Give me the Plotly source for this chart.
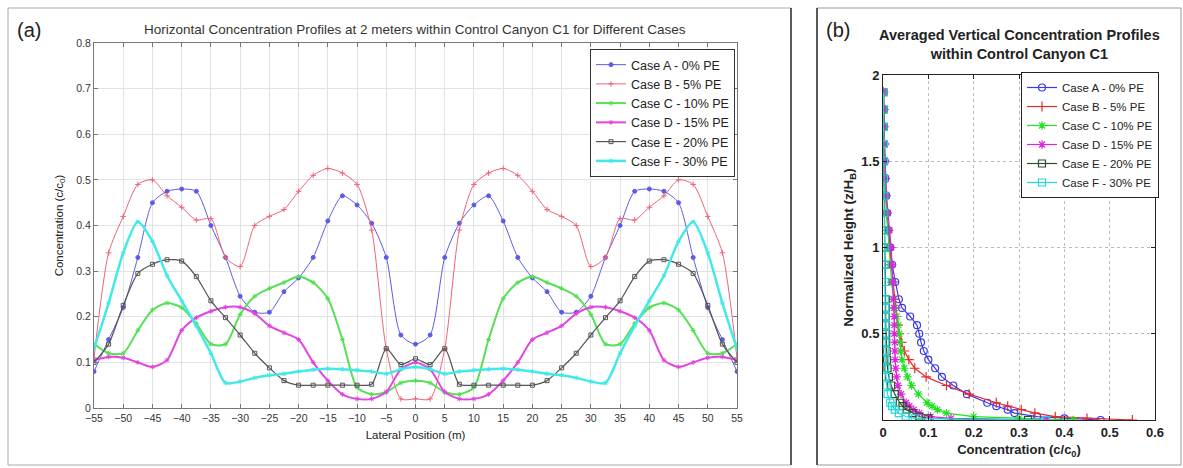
import plotly.graph_objects as go

# ---- panel (a): horizontal profiles at 2 m, lateral position -55..55 step 2.5
lateral_m = [-55, -52.5, -50, -47.5, -45, -42.5, -40, -37.5, -35, -32.5, -30, -27.5, -25, -22.5,
             -20, -17.5, -15, -12.5, -10, -7.5, -5, -2.5, 0, 2.5, 5, 7.5, 10, 12.5, 15, 17.5,
             20, 22.5, 25, 27.5, 30, 32.5, 35, 37.5, 40, 42.5, 45, 47.5, 50, 52.5, 55]

case_a = [0.08, 0.15, 0.22, 0.33, 0.45, 0.475, 0.48, 0.475, 0.40, 0.33, 0.245, 0.21, 0.21, 0.255,
          0.285, 0.33, 0.41, 0.465, 0.445, 0.405, 0.33, 0.16, 0.14, 0.16, 0.33, 0.405, 0.445, 0.465,
          0.41, 0.33, 0.285, 0.255, 0.21, 0.21, 0.245, 0.33, 0.40, 0.475, 0.48, 0.475, 0.45, 0.33,
          0.22, 0.15, 0.08]
case_b = [0.11, 0.34, 0.42, 0.49, 0.50, 0.465, 0.44, 0.412, 0.415, 0.33, 0.31, 0.40, 0.42, 0.435,
          0.475, 0.51, 0.525, 0.515, 0.49, 0.39, 0.13, 0.02, 0.02, 0.02, 0.13, 0.39, 0.49, 0.515,
          0.525, 0.51, 0.475, 0.435, 0.42, 0.40, 0.31, 0.33, 0.415, 0.412, 0.44, 0.465, 0.50, 0.49,
          0.42, 0.34, 0.11]
case_c = [0.14, 0.12, 0.12, 0.17, 0.215, 0.23, 0.22, 0.185, 0.14, 0.14, 0.205, 0.245, 0.262, 0.275,
          0.288, 0.275, 0.24, 0.15, 0.045, 0.03, 0.035, 0.055, 0.06, 0.055, 0.035, 0.03, 0.045, 0.15,
          0.24, 0.275, 0.288, 0.275, 0.262, 0.245, 0.205, 0.14, 0.14, 0.185, 0.22, 0.23, 0.215, 0.17,
          0.12, 0.12, 0.14]
case_d = [0.105, 0.112, 0.11, 0.10, 0.09, 0.105, 0.17, 0.198, 0.212, 0.221, 0.221, 0.207, 0.18, 0.165,
          0.15, 0.10, 0.06, 0.03, 0.02, 0.02, 0.035, 0.085, 0.10, 0.085, 0.035, 0.02, 0.02, 0.03,
          0.06, 0.10, 0.15, 0.165, 0.18, 0.207, 0.221, 0.221, 0.212, 0.198, 0.17, 0.105, 0.09, 0.10,
          0.11, 0.112, 0.105]
case_e = [0.10, 0.14, 0.225, 0.295, 0.315, 0.325, 0.322, 0.288, 0.235, 0.198, 0.16, 0.12, 0.088, 0.06,
          0.05, 0.05, 0.05, 0.05, 0.05, 0.052, 0.13, 0.095, 0.108, 0.095, 0.13, 0.052, 0.05, 0.05,
          0.05, 0.05, 0.05, 0.06, 0.088, 0.12, 0.16, 0.198, 0.235, 0.288, 0.322, 0.325, 0.315, 0.295,
          0.225, 0.14, 0.10]
case_f = [0.13, 0.23, 0.34, 0.408, 0.365, 0.29, 0.235, 0.18, 0.12, 0.055, 0.058, 0.066, 0.072, 0.075,
          0.08, 0.084, 0.086, 0.085, 0.083, 0.08, 0.075, 0.085, 0.09, 0.085, 0.075, 0.08, 0.083, 0.085,
          0.086, 0.084, 0.08, 0.075, 0.072, 0.066, 0.058, 0.055, 0.12, 0.18, 0.235, 0.29, 0.365, 0.408,
          0.34, 0.23, 0.13]

# ---- panel (b): averaged vertical profiles, normalized height z/H_B
height = [0, 0.01, 0.02, 0.04, 0.06, 0.08, 0.1, 0.15, 0.2, 0.25, 0.3, 0.35, 0.4, 0.45, 0.5, 0.55,
          0.6, 0.65, 0.7, 0.8, 0.9, 1.0, 1.1, 1.2, 1.3, 1.4, 1.5, 1.6, 1.7, 1.8, 1.9]

vert_a = [0.48, 0.40, 0.34, 0.29, 0.275, 0.25, 0.23, 0.185, 0.155, 0.13, 0.115, 0.10, 0.09, 0.084,
          0.08, 0.075, 0.06, 0.042, 0.035, 0.027, 0.02, 0.016, 0.012, 0.009, 0.007, 0.005, 0.004,
          0.003, 0.002, 0.002, 0.001]
vert_b = [0.55, 0.45, 0.38, 0.335, 0.305, 0.275, 0.25, 0.19, 0.14, 0.095, 0.07, 0.057, 0.047, 0.041,
          0.036, 0.033, 0.03, 0.028, 0.026, 0.022, 0.018, 0.014, 0.011, 0.008, 0.006, 0.005, 0.004,
          0.003, 0.002, 0.002, 0.001]
vert_c = [0.42, 0.30, 0.20, 0.14, 0.12, 0.108, 0.097, 0.078, 0.063, 0.054, 0.047, 0.042, 0.039, 0.037,
          0.036, 0.034, 0.03, 0.026, 0.023, 0.019, 0.016, 0.013, 0.01, 0.008, 0.006, 0.005, 0.004,
          0.003, 0.002, 0.002, 0.001]
vert_d = [0.36, 0.15, 0.105, 0.08, 0.068, 0.058, 0.051, 0.04, 0.033, 0.03, 0.028, 0.027, 0.026, 0.026,
          0.025, 0.025, 0.025, 0.024, 0.023, 0.022, 0.02, 0.018, 0.014, 0.011, 0.008, 0.006, 0.004,
          0.003, 0.002, 0.002, 0.001]
vert_e = [0.32, 0.10, 0.08, 0.065, 0.052, 0.043, 0.037, 0.026, 0.018, 0.013, 0.01, 0.009, 0.008, 0.007,
          0.007, 0.006, 0.006, 0.006, 0.006, 0.005, 0.005, 0.004, 0.004, 0.003, 0.003, 0.002, 0.002,
          0.002, 0.001, 0.001, 0.001]
vert_f = [0.36, 0.07, 0.05, 0.035, 0.026, 0.02, 0.016, 0.01, 0.008, 0.006, 0.005, 0.005, 0.005, 0.005,
          0.005, 0.005, 0.005, 0.005, 0.004, 0.004, 0.004, 0.004, 0.003, 0.003, 0.003, 0.002, 0.002,
          0.002, 0.001, 0.001, 0.001]

case_names = ['Case A - 0% PE', 'Case B - 5% PE', 'Case C - 10% PE',
              'Case D - 15% PE', 'Case E - 20% PE', 'Case F - 30% PE']

FONT = 'Liberation Sans, Arial, sans-serif'
W, H = 1183, 468

fig = go.Figure()

# panel (a) styles
a_colors = ['#5b5be6', '#ec6478', '#55e055', '#e046e0', '#555555', '#45e8e8']
a_symbols = ['circle', 'cross-thin-open', 'asterisk-open', 'asterisk-open', 'square-open', 'asterisk-open']
a_widths = [1, 1, 2, 2, 1.2, 2.5]
for name, ys, col, sym, w in zip(case_names, [case_a, case_b, case_c, case_d, case_e, case_f],
                                 a_colors, a_symbols, a_widths):
    fig.add_trace(go.Scatter(
        x=lateral_m, y=ys, name=name, mode='lines+markers',
        line=dict(color=col, width=w, shape='spline', smoothing=0.7),
        marker=dict(symbol=sym, size=4, color=col, line=dict(color=col, width=1)),
        xaxis='x', yaxis='y', legend='legend'))

# panel (b) styles
b_colors = ['#3a3ae8', '#e82a2a', '#22e022', '#e022e0', '#2f4f2f', '#22d8d8']
b_symbols = ['circle-open', 'cross-thin-open', 'asterisk-open', 'asterisk-open', 'square-open', 'square-open']
for name, xs, col, sym in zip(case_names, [vert_a, vert_b, vert_c, vert_d, vert_e, vert_f],
                              b_colors, b_symbols):
    fig.add_trace(go.Scatter(
        x=xs, y=height, name=name, mode='lines+markers',
        line=dict(color=col, width=1.2),
        marker=dict(symbol=sym, size=7, color=col, line=dict(color=col, width=1.2)),
        xaxis='x2', yaxis='y2', legend='legend2'))

axis_a = dict(showline=True, linecolor='#777', mirror='ticks', ticks='inside', ticklen=4,
              tickcolor='#777', showgrid=True, gridcolor='#e2e2e2', zeroline=False, automargin=False,
              tickfont=dict(size=10.5, color='#333', family=FONT))
axis_b = dict(showline=True, linecolor='#222', mirror='ticks', ticks='inside', ticklen=4,
              tickcolor='#222', showgrid=True, gridcolor='#bbbbbb', griddash='dot', zeroline=False,
              automargin=False, tickfont=dict(size=13, color='#222', family=FONT, weight='bold'))

fig.update_layout(
    width=W, height=H,
    margin=dict(l=0, r=0, t=0, b=0, pad=0, autoexpand=False),
    paper_bgcolor='white', plot_bgcolor='white',
    font=dict(family=FONT, color='#222'),
    xaxis=dict(axis_a, domain=[94 / W, 737 / W], range=[-55, 55], tickvals=list(range(-55, 56, 5)),
               title=dict(text='Lateral Position (m)', font=dict(size=11.5), standoff=8), anchor='y'),
    yaxis=dict(axis_a, domain=[1 - 408 / H, 1 - 43 / H], range=[0, 0.8], dtick=0.1, tickformat='.1~f',
               title=dict(text='Concentration (c/c<sub>0</sub>)', font=dict(size=11.5), standoff=10),
               anchor='x'),
    xaxis2=dict(axis_b, domain=[883 / W, 1155 / W], range=[0, 0.6], dtick=0.1, tickformat='.1~f',
                title=dict(text='Concentration (c/c<sub>0</sub>)', font=dict(size=13, weight='bold'),
                           standoff=6),
                anchor='y2'),
    yaxis2=dict(axis_b, domain=[1 - 420 / H, 1 - 75 / H], range=[0, 2], tickvals=[0.5, 1, 1.5, 2],
                ticktext=['0.5', '1', '1.5', '2'],
                title=dict(text='Normalized Height (z/H<sub>B</sub>)', font=dict(size=13.5, weight='bold'),
                           standoff=4),
                anchor='x2'),
    legend=dict(x=590 / W, y=1 - 49 / H, xanchor='left', yanchor='top', bgcolor='white',
                bordercolor='#333', borderwidth=1, font=dict(size=12.5, color='#222'),
                tracegroupgap=0, itemwidth=30),
    legend2=dict(x=1021 / W, y=1 - 72 / H, xanchor='left', yanchor='top', bgcolor='white',
                 bordercolor='#222', borderwidth=1, font=dict(size=11.5, color='#222'),
                 tracegroupgap=0, itemwidth=30),
    showlegend=True,
)

# panel frames
fig.add_shape(type='rect', xref='paper', yref='paper', x0=8 / W, x1=791 / W,
              y0=1 - 465 / H, y1=1 - 8 / H, line=dict(color='#aaaaaa', width=1))
fig.add_shape(type='line', xref='paper', yref='paper', x0=791 / W, x1=791 / W,
              y0=1 - 465 / H, y1=1 - 8 / H, line=dict(color='#333', width=1.5))
fig.add_shape(type='rect', xref='paper', yref='paper', x0=817 / W, x1=1181 / W,
              y0=1 - 465 / H, y1=1 - 8 / H, line=dict(color='#999999', width=1))
fig.add_shape(type='line', xref='paper', yref='paper', x0=817 / W, x1=817 / W,
              y0=1 - 465 / H, y1=1 - 8 / H, line=dict(color='#333', width=1.5))

# titles and panel letters
fig.add_annotation(text='Horizontal Concentration Profiles at 2 meters within Control Canyon C1 for Different Cases',
                   xref='paper', yref='paper', x=415 / W, y=1 - 29 / H, showarrow=False,
                   xanchor='center', yanchor='middle', font=dict(size=13.5, color='#333'))
fig.add_annotation(text='Averaged Vertical Concentration Profiles<br>within Control Canyon C1',
                   xref='paper', yref='paper', x=1019 / W, y=1 - 45 / H, showarrow=False,
                   xanchor='center', yanchor='middle',
                   font=dict(size=14.5, color='#222', weight='bold'))
fig.add_annotation(text='(a)', xref='paper', yref='paper', x=29 / W, y=1 - 30 / H,
                   showarrow=False, xanchor='center', yanchor='middle', font=dict(size=20, color='#222'))
fig.add_annotation(text='(b)', xref='paper', yref='paper', x=838 / W, y=1 - 30 / H,
                   showarrow=False, xanchor='center', yanchor='middle', font=dict(size=20, color='#222'))

# drop the page's default body margin so the figure sits at the window's top-left
fig.write_html('out.html', config={'displayModeBar': False},
               post_script="document.body.style.margin='0';")
